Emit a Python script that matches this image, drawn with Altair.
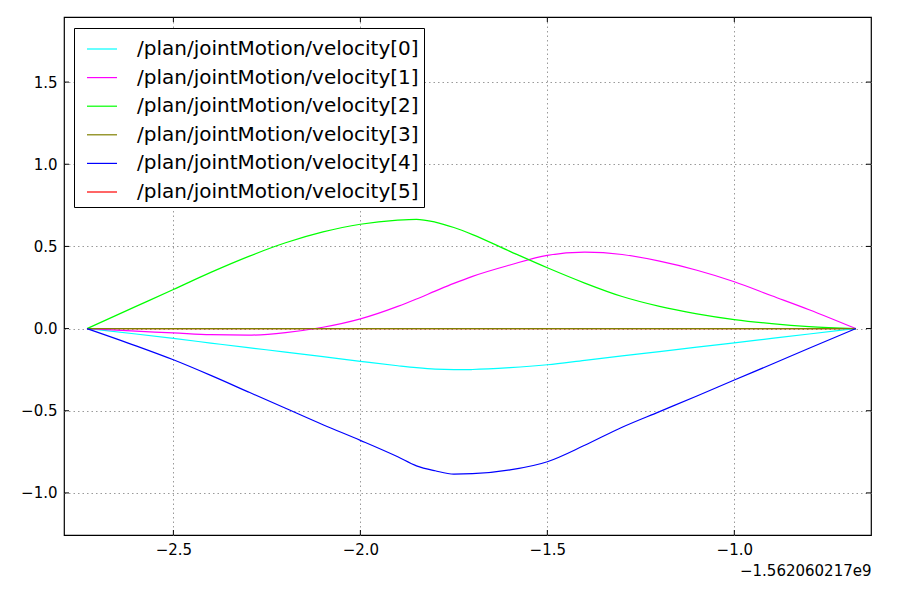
import altair as alt
import pandas as pd

# time offset from 1.562060217e9 (seconds)
time = [-2.731, -2.6, -2.5, -2.4, -2.3, -2.2, -2.1, -2.0, -1.9, -1.85, -1.8, -1.75,
        -1.7, -1.6, -1.5, -1.4, -1.3, -1.2, -1.1, -1.0, -0.9, -0.8, -0.675]

vel0 = [0.0, -0.033, -0.06, -0.088, -0.116, -0.143, -0.171, -0.199, -0.226, -0.238, -0.247, -0.25,
        -0.249, -0.238, -0.22, -0.193, -0.166, -0.14, -0.113, -0.087, -0.06, -0.033, 0.0]
vel1 = [0.0, -0.016, -0.026, -0.037, -0.04, -0.024, 0.008, 0.059, 0.135, 0.18, 0.228, 0.275,
        0.318, 0.387, 0.446, 0.465, 0.451, 0.41, 0.355, 0.285, 0.2, 0.115, 0.0]
vel2 = [0.0, 0.135, 0.238, 0.342, 0.438, 0.522, 0.588, 0.635, 0.66, 0.665, 0.648, 0.615,
        0.572, 0.47, 0.37, 0.277, 0.195, 0.135, 0.09, 0.055, 0.03, 0.012, 0.0]
vel3 = [0.0] * len(time)
vel4 = [0.0, -0.105, -0.19, -0.285, -0.385, -0.485, -0.585, -0.68, -0.78, -0.835, -0.865, -0.885,
        -0.883, -0.86, -0.81, -0.71, -0.60, -0.505, -0.41, -0.313, -0.217, -0.12, 0.0]
vel5 = [0.0] * len(time)

names = ["/plan/jointMotion/velocity[0]", "/plan/jointMotion/velocity[1]",
         "/plan/jointMotion/velocity[2]", "/plan/jointMotion/velocity[3]",
         "/plan/jointMotion/velocity[4]", "/plan/jointMotion/velocity[5]"]
colors = ["#00ffff", "#ff00ff", "#00ff00", "#808000", "#0000ff", "#ff0000"]

x_ticks = [-2.5, -2.0, -1.5, -1.0]
y_ticks = [-1.0, -0.5, 0.0, 0.5, 1.0, 1.5]
x_domain = [-2.7925, -0.6345]
y_domain = [-1.256, 1.896]
offset_label = "\u22121.562060217e9"

W, H = 807, 518

series = [vel0, vel1, vel2, vel3, vel4, vel5]
rows = []
for name, vals in zip(names, series):
    for t, v in zip(time, vals):
        rows.append({"t": t, "v": v, "series": name})
df = pd.DataFrame(rows)
df_red = df[df["series"] == names[5]]
df_rest = df[df["series"] != names[5]]

xscale = alt.Scale(domain=x_domain, nice=False, zero=False)
yscale = alt.Scale(domain=y_domain, nice=False, zero=False)
cscale = alt.Scale(domain=names, range=colors)

xaxis = alt.Axis(values=x_ticks, format=".1f", grid=True, ticks=False, domain=False,
                 labelFontSize=15, labelPadding=7, labelColor="black",
                 title=offset_label, titleFontSize=15, titleFontWeight="normal",
                 titleColor="black", titleAnchor="end", titleAlign="right",
                 titleX=W, titleY=40, titleBaseline="alphabetic")
yaxis = alt.Axis(values=y_ticks, format=".1f", grid=True, ticks=False, domain=False,
                 labelFontSize=15, labelPadding=7, labelColor="black", title=None)

legend = alt.Legend(title=None, orient="none", legendX=10, legendY=11,
                    symbolType="stroke", symbolSize=900, symbolStrokeWidth=1.2,
                    symbolOffset=7, labelOffset=19, labelFontSize=20, labelColor="black",
                    labelLimit=400, rowPadding=2.6, padding=5,
                    strokeColor="black", fillColor="white", cornerRadius=0)

color_enc = alt.Color("series:N", scale=cscale, legend=legend, sort=names)

red_line = alt.Chart(df_red).mark_line(strokeWidth=1.2, interpolate="monotone").encode(
    x=alt.X("t:Q", scale=xscale, axis=xaxis),
    y=alt.Y("v:Q", scale=yscale, axis=yaxis),
    color=color_enc,
)
lines = alt.Chart(df_rest).mark_line(strokeWidth=1.2, interpolate="monotone").encode(
    x=alt.X("t:Q", scale=xscale),
    y=alt.Y("v:Q", scale=yscale),
    color=color_enc,
    detail="series:N",
)

xt = pd.DataFrame({"t": x_ticks})
yt = pd.DataFrame({"v": y_ticks})
tick_style = dict(color="black", strokeWidth=1)
xb = alt.Chart(xt).mark_rule(**tick_style).encode(
    x=alt.X("t:Q", scale=xscale), y=alt.value(H), y2=alt.value(H - 5))
xtp = alt.Chart(xt).mark_rule(**tick_style).encode(
    x=alt.X("t:Q", scale=xscale), y=alt.value(0), y2=alt.value(5))
yl = alt.Chart(yt).mark_rule(**tick_style).encode(
    y=alt.Y("v:Q", scale=yscale), x=alt.value(0), x2=alt.value(5))
yr = alt.Chart(yt).mark_rule(**tick_style).encode(
    y=alt.Y("v:Q", scale=yscale), x=alt.value(W), x2=alt.value(W - 5))

chart = alt.layer(red_line, lines, xb, xtp, yl, yr).properties(
    width=W, height=H,
    autosize=alt.AutoSizeParams(type="none"),
    padding={"left": 64, "top": 17, "right": 35, "bottom": 60},
    background="white",
).configure_view(
    stroke="black", strokeWidth=1.2
).configure_axis(
    gridColor="#9a9a9a", gridDash=[1.5, 3], gridWidth=1,
    labelFont="DejaVu Sans", titleFont="DejaVu Sans"
).configure_legend(
    labelFont="DejaVu Sans"
)

chart.save("out.html", embed_options={"renderer": "svg", "actions": False})
